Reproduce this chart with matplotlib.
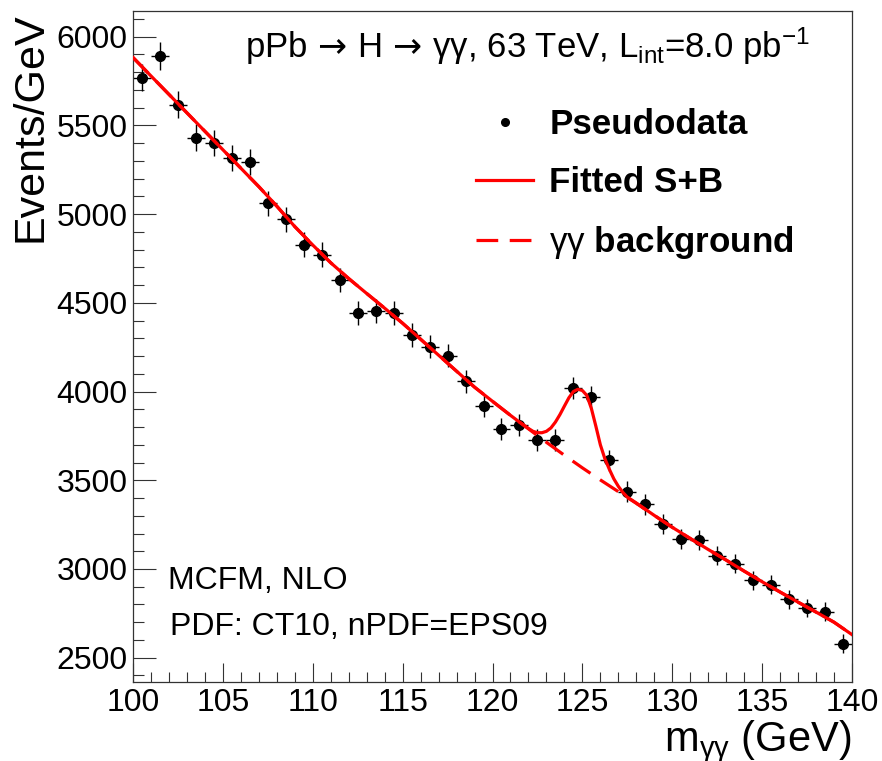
import matplotlib
matplotlib.use('Agg')
import matplotlib.pyplot as plt
from matplotlib.ticker import MultipleLocator
from matplotlib.lines import Line2D

plt.rcParams['font.family'] = ['Liberation Sans', 'DejaVu Sans']
plt.rcParams['mathtext.fontset'] = 'custom'
plt.rcParams['mathtext.rm'] = 'Liberation Sans'
plt.rcParams['mathtext.it'] = 'Liberation Sans:italic'
plt.rcParams['mathtext.bf'] = 'Liberation Sans:bold'
plt.rcParams['mathtext.sf'] = 'DejaVu Sans'

# ---- pseudodata (bin centres, events/GeV, stat. errors) ----
mass = [100.5, 101.5, 102.5, 103.5, 104.5, 105.5, 106.5, 107.5, 108.5, 109.5,
        110.5, 111.5, 112.5, 113.5, 114.5, 115.5, 116.5, 117.5, 118.5, 119.5,
        120.5, 121.5, 122.5, 123.5, 124.5, 125.5, 126.5, 127.5, 128.5, 129.5,
        130.5, 131.5, 132.5, 133.5, 134.5, 135.5, 136.5, 137.5, 138.5, 139.5]
events = [5768, 5891, 5618, 5432, 5403, 5317, 5294, 5062, 4970, 4828,
          4772, 4629, 4441, 4452, 4443, 4319, 4252, 4202, 4058, 3921,
          3787, 3810, 3727, 3727, 4019, 3970, 3612, 3435, 3364, 3254,
          3170, 3164, 3076, 3030, 2936, 2912, 2829, 2780, 2759, 2580]
errors = [76, 77, 75, 74, 74, 73, 73, 71, 71, 69,
          69, 68, 67, 67, 67, 66, 65, 65, 64, 63,
          62, 62, 61, 61, 63, 63, 60, 59, 58, 57,
          56, 56, 55, 55, 54, 54, 53, 53, 53, 51]
bin_half = [0.5] * len(mass)

# ---- gamma-gamma background fit curve ----
bkg_x = [100, 101, 102, 103, 104, 105, 106, 107, 108, 109, 110, 111, 112, 113,
         114, 115, 116, 117, 118, 119, 120, 121, 122, 123, 124, 125, 126, 127,
         128, 129, 130, 131, 132, 133, 134, 135, 136, 137, 138, 139, 140]
bkg_y = [5883, 5779, 5675, 5571, 5467, 5363, 5259, 5155, 5045, 4930, 4826, 4726,
         4637, 4553, 4470, 4385, 4295, 4205, 4115, 4025, 3945, 3866, 3790, 3714,
         3641, 3570, 3502, 3436, 3370, 3302, 3235, 3172, 3110, 3050, 2988, 2928,
         2870, 2813, 2757, 2700, 2630]

# ---- fitted signal + background curve ----
sb_x = [100, 101, 102, 103, 104, 105, 106, 107, 108, 109, 110, 111, 112, 113,
        114, 115, 116, 117, 118, 119, 120, 121, 121.5, 122, 122.25, 122.5,
        122.75, 123, 123.25, 123.5, 123.75, 124, 124.25, 124.5, 124.75, 125,
        125.25, 125.5, 125.75, 126, 126.25, 126.5, 126.75, 127, 127.25, 127.5,
        128, 129, 130, 131, 132, 133, 134, 135, 136, 137, 138, 139, 140]
sb_y = [5883, 5779, 5675, 5571, 5467, 5363, 5259, 5155, 5045, 4930, 4826, 4726,
        4637, 4553, 4470, 4385, 4295, 4205, 4115, 4025, 3945, 3866, 3828, 3792,
        3776, 3768, 3768, 3776, 3795, 3828, 3870, 3918, 3965, 4000, 4013, 4006,
        3978, 3905, 3805, 3700, 3622, 3562, 3508, 3466, 3432, 3405, 3372, 3302,
        3235, 3172, 3110, 3050, 2988, 2928, 2870, 2813, 2757, 2700, 2630]

fig = plt.figure(figsize=(8.82, 7.61), dpi=100)
ax = fig.add_axes([133 / 882, 1 - 682 / 761, 719 / 882, 671 / 761])

ax.errorbar(mass, events, xerr=bin_half, yerr=errors, fmt='o', color='black',
            ms=7, elinewidth=1.0, capsize=0, zorder=2)
ax.plot(bkg_x, bkg_y, color='#ff0000', lw=2.3, dashes=(6.8, 3.6), zorder=3)
ax.plot(sb_x, sb_y, color='#ff0000', lw=2.3, zorder=4)

ax.set_xlim(100, 140)
ax.set_ylim(2363, 6145)
ax.xaxis.set_major_locator(MultipleLocator(5))
ax.xaxis.set_minor_locator(MultipleLocator(1))
ax.yaxis.set_major_locator(MultipleLocator(500))
ax.yaxis.set_minor_locator(MultipleLocator(100))
ax.tick_params(axis='both', which='both', direction='in', top=False, right=False,
               width=0.8, color='#333333', labelsize=23)
ax.tick_params(axis='y', which='major', length=16.5, pad=4)
ax.tick_params(axis='y', which='minor', length=8)
ax.tick_params(axis='x', which='major', length=13.5, pad=4)
ax.tick_params(axis='x', which='minor', length=7)
for s in ax.spines.values():
    s.set_linewidth(0.9)
    s.set_color('#333333')

fig.text(31 / 882, 1 - 12 / 761, 'Events/GeV', rotation=90, ha='center',
         va='top', fontsize=31)
fig.text(851 / 882, 1 - 751 / 761, r'm$_{\mathrm{\gamma\gamma}}$ (GeV)',
         ha='right', va='baseline', fontsize=30)

ax.text((245 - 133) / 719, (682 - 58) / 671,
        r'pPb$\,\mathsf{\rightarrow}\,$H$\,\mathsf{\rightarrow}\,\mathrm{\gamma\gamma}$, 63 TeV, L$_{\mathrm{int}}$=8.0 pb$^{\mathrm{-1}}$',
        transform=ax.transAxes, ha='left', va='baseline', fontsize=25)
ax.text((168 - 133) / 719, (682 - 589) / 671, 'MCFM, NLO',
        transform=ax.transAxes, ha='left', va='baseline', fontsize=23)
ax.text((170 - 133) / 719, (682 - 635) / 671, 'PDF: CT10, nPDF=EPS09',
        transform=ax.transAxes, ha='left', va='baseline', fontsize=23)

handles = [Line2D([], [], ls='none', marker='o', color='black', ms=5.5),
           Line2D([], [], color='#ff0000', lw=2.3),
           Line2D([], [], color='#ff0000', lw=2.3, dashes=(6.8, 3.6))]
labels = ['Pseudodata', 'Fitted S+B', r'$\mathrm{\gamma\gamma}$ background']
leg = ax.legend(handles, labels, loc='upper left',
                bbox_to_anchor=((476 - 133) / 719, (682 - 108) / 671),
                frameon=False, borderpad=0, borderaxespad=0,
                handlelength=1.63, handletextpad=0.46, labelspacing=0.72,
                prop={'weight': 'bold', 'size': 25.2})

fig.savefig('out.png', dpi=100)
